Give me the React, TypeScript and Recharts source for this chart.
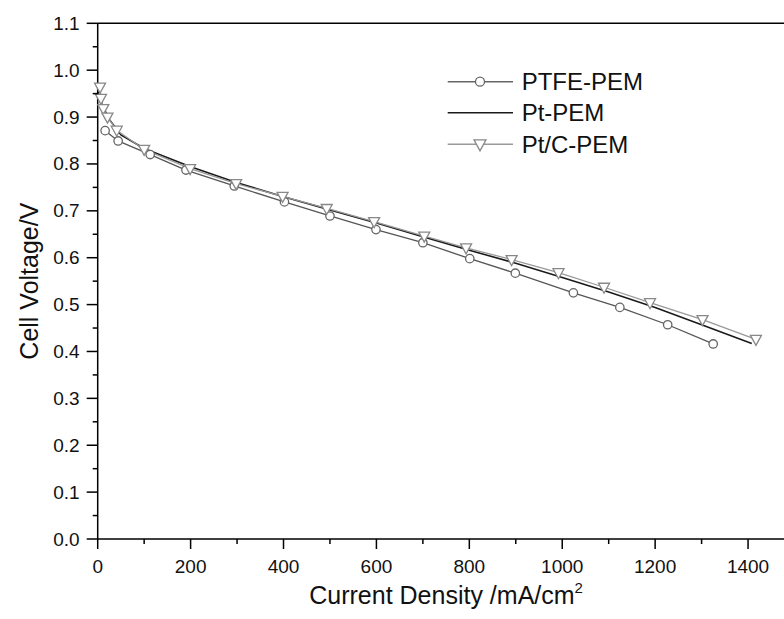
import { LineChart, Line, XAxis, YAxis, ReferenceLine, Label } from "recharts";

// PTFE-PEM (open circles)
const ptfeCurrent = [16, 44, 113, 190, 294, 402, 500, 599, 700, 801, 899, 1024, 1124, 1227, 1325];
const ptfeVoltage = [0.871, 0.849, 0.82, 0.787, 0.753, 0.719, 0.689, 0.66, 0.632, 0.598, 0.567, 0.525, 0.494, 0.457, 0.416];

// Pt-PEM (plain black line)
const ptCurrent = [0, 10, 25, 50, 100, 200, 300, 400, 500, 600, 700, 800, 900, 1000, 1100, 1200, 1300, 1408];
const ptVoltage = [0.955, 0.925, 0.895, 0.862, 0.833, 0.794, 0.76, 0.73, 0.702, 0.674, 0.645, 0.616, 0.588, 0.558, 0.527, 0.494, 0.457, 0.417];

// Pt/C-PEM (open down triangles)
const ptcCurrent = [5, 7, 12, 21, 41, 100, 199, 298, 398, 493, 595, 703, 793, 891, 992, 1090, 1189, 1302, 1417];
const ptcVoltage = [0.964, 0.94, 0.918, 0.9, 0.872, 0.831, 0.79, 0.758, 0.731, 0.705, 0.677, 0.646, 0.621, 0.596, 0.568, 0.537, 0.504, 0.468, 0.426];

const xTicks = [0, 100, 200, 300, 400, 500, 600, 700, 800, 900, 1000, 1100, 1200, 1300, 1400, 1500];
const yTicks = [0, 0.05, 0.1, 0.15, 0.2, 0.25, 0.3, 0.35, 0.4, 0.45, 0.5, 0.55, 0.6, 0.65, 0.7, 0.75, 0.8, 0.85, 0.9, 0.95, 1.0, 1.05, 1.1];

const toPoints = (xs: number[], ys: number[]) => xs.map((x, i) => ({ x, y: ys[i] }));
const ptfeData = toPoints(ptfeCurrent, ptfeVoltage);
const ptData = toPoints(ptCurrent, ptVoltage);
const ptcData = toPoints(ptcCurrent, ptcVoltage);

const FONT = "'Liberation Sans', Arial, sans-serif";

const CircleDot = (p: any) => (
  <circle key={p.index} cx={p.cx} cy={p.cy} r={4.2} fill="#fff" stroke="#666" strokeWidth={1.3} />
);

const TriDot = (p: any) => (
  <path
    key={p.index}
    d={`M${p.cx - 5.5},${p.cy - 4} L${p.cx + 5.5},${p.cy - 4} L${p.cx},${p.cy + 6} Z`}
    fill="#fff"
    stroke="#888"
    strokeWidth={1.3}
  />
);

const XTick = (p: any) => {
  const v = p.payload.value;
  const major = v % 200 === 0;
  return (
    <g>
      <line x1={p.x} x2={p.x} y1={p.y} y2={p.y + (major ? 10 : 5)} stroke="#000" strokeWidth={1.5} />
      {major && v <= 1400 && (
        <text x={p.x} y={p.y + 34} textAnchor="middle" fontSize={19} fontFamily={FONT} fill="#111">
          {v}
        </text>
      )}
    </g>
  );
};

const YTick = (p: any) => {
  const v = p.payload.value;
  const major = Math.round(v * 100) % 10 === 0;
  return (
    <g>
      <line x1={p.x} x2={p.x - (major ? 11 : 5)} y1={p.y} y2={p.y} stroke="#000" strokeWidth={1.5} />
      {major && (
        <text x={p.x - 18} y={p.y + 6.5} textAnchor="end" fontSize={19} fontFamily={FONT} fill="#111">
          {v.toFixed(1)}
        </text>
      )}
    </g>
  );
};

const XTitle = (p: any) => {
  const vb = p.viewBox;
  return (
    <text x={vb.x + vb.width / 2} y={604} textAnchor="middle" fontSize={25} fontFamily={FONT} fill="#111">
      Current Density /mA/cm
      <tspan dy={-11} fontSize={15}>2</tspan>
    </text>
  );
};

const YTitle = (p: any) => {
  const vb = p.viewBox;
  const cy = vb.y + vb.height / 2;
  return (
    <text x={38} y={cy} transform={`rotate(-90 38 ${cy})`} textAnchor="middle" fontSize={25} fontFamily={FONT} fill="#111">
      Cell Voltage/V
    </text>
  );
};

const legendRows = [
  { name: "PTFE-PEM", y: 81.7, color: "#666", mark: "circle" },
  { name: "Pt-PEM", y: 112.7, color: "#1a1a1a", mark: "none" },
  { name: "Pt/C-PEM", y: 144.3, color: "#999", mark: "tri" },
];

export default function App() {
  return (
    <div style={{ position: "fixed", left: 0, top: 0, width: 784, height: 619, overflow: "hidden", background: "#fff" }}>
      <LineChart width={820} height={619} margin={{ top: 23.3, right: 25.5, bottom: 0, left: 0 }}>
        <XAxis
          type="number"
          dataKey="x"
          domain={[0, 1500]}
          ticks={xTicks}
          interval={0}
          height={80}
          tickSize={0}
          tickMargin={0}
          tick={<XTick />}
          stroke="#000"
          strokeWidth={1.5}
        >
          <Label content={<XTitle />} />
        </XAxis>
        <YAxis
          type="number"
          dataKey="y"
          domain={[0, 1.1]}
          ticks={yTicks}
          interval={0}
          width={97.7}
          tickSize={0}
          tickMargin={0}
          tick={<YTick />}
          stroke="#000"
          strokeWidth={1.5}
        >
          <Label content={<YTitle />} />
        </YAxis>
        <ReferenceLine y={1.1} stroke="#000" strokeWidth={1.5} />
        <ReferenceLine x={1500} stroke="#000" strokeWidth={1.5} />
        <Line data={ptfeData} dataKey="y" type="linear" stroke="#555" strokeWidth={1.3} dot={CircleDot} isAnimationActive={false} />
        <Line data={ptData} dataKey="y" type="linear" stroke="#1a1a1a" strokeWidth={1.6} dot={false} isAnimationActive={false} />
        <Line data={ptcData} dataKey="y" type="linear" stroke="#999" strokeWidth={1.3} dot={TriDot} isAnimationActive={false} />
      </LineChart>
      <svg width={784} height={619} style={{ position: "absolute", left: 0, top: 0, pointerEvents: "none" }}>
        {legendRows.map((r) => (
          <g key={r.name}>
            <line x1={447.7} x2={513} y1={r.y} y2={r.y} stroke={r.color} strokeWidth={1.4} />
            {r.mark === "circle" && <circle cx={480} cy={r.y} r={4.5} fill="#fff" stroke={r.color} strokeWidth={1.3} />}
            {r.mark === "tri" && (
              <path d={`M${474},${r.y - 4.5} L${486},${r.y - 4.5} L${480},${r.y + 6.5} Z`} fill="#fff" stroke="#888" strokeWidth={1.3} />
            )}
            <text x={521.7} y={r.y + 8.6} fontSize={24} fontFamily={FONT} fill="#111">
              {r.name}
            </text>
          </g>
        ))}
      </svg>
    </div>
  );
}
